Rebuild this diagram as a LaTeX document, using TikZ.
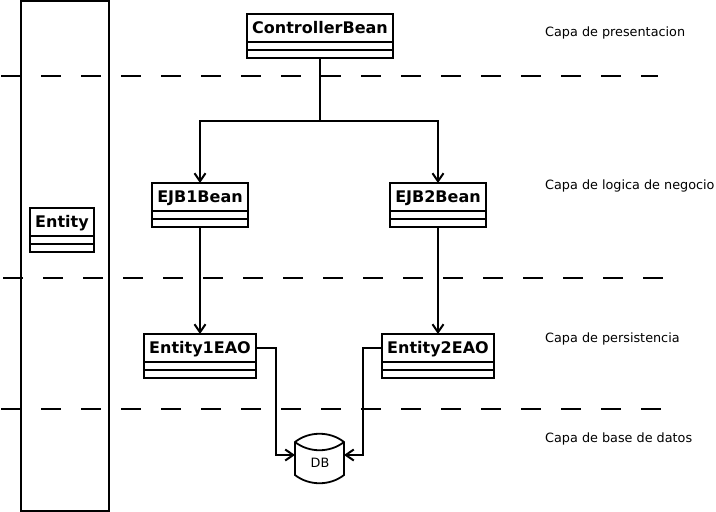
\documentclass[tikz,border=0pt]{standalone}
\usepackage{fontspec}
\setmainfont{DejaVu Sans}
\usetikzlibrary{arrows.meta,calc}
\tikzset{
  x=1pt,y=-1pt,
  line/.style={draw=black,line width=2pt},
  cls/.style={line,fill=white,inner sep=0pt,outer sep=0pt,minimum height=44pt},
  clstitle/.style={font=\bfseries\fontsize{16pt}{18pt}\selectfont,inner sep=0pt,anchor=base},
  layer/.style={font=\fontsize{12.8pt}{15pt}\selectfont,inner sep=0pt,anchor=west},
  sep/.style={line,dash pattern=on 20pt off 20pt},
  conn/.style={line,-{Straight Barb[length=8pt,width=11pt,line width=2pt]}},
}
\newcommand{\umlcls}[5]{% name, x centre, y centre, width, text
  \node[cls,minimum width=#4pt] (#1) at (#2,#3) {};
  \node[clstitle] (#1t) at ($(#1.north)+(0,19)$) {#5};
  \draw[line] ($(#1.north west)+(0,28)$) -- ($(#1.north east)+(0,28)$);
  \draw[line] ($(#1.north west)+(0,36)$) -- ($(#1.north east)+(0,36)$);
}
\begin{document}
\begin{tikzpicture}
\useasboundingbox (0,0) rectangle (716,512);
\node[line,inner sep=0pt,outer sep=0pt,minimum width=88pt,minimum height=510pt] (band) at (65,256) {};
\coordinate (s1a) at (1,76);  \coordinate (s1b) at (658,76);
\coordinate (s2a) at (3,278); \coordinate (s2b) at (664,278);
\coordinate (s3a) at (1,409); \coordinate (s3b) at (662,409);
\draw[sep] (s1a) -- (s1b);
\draw[sep] (s2a) -- (s2b);
\draw[sep] (s3a) -- (s3b);
\umlcls{ctrl}{320}{36}{146}{ControllerBean}
\umlcls{ejba}{200}{205}{96}{EJB1Bean}
\umlcls{ejbb}{438}{205}{96}{EJB2Bean}
\umlcls{ent}{62}{230}{64}{Entity}
\umlcls{eaoa}{200}{356}{112}{Entity1EAO}
\umlcls{eaob}{438}{356}{112}{Entity2EAO}
\node[inner sep=0pt,outer sep=0pt,minimum width=49pt,minimum height=49pt] (db) at (319.5,458.5) {};
\node[inner sep=0pt,font=\fontsize{12.8pt}{15pt}\selectfont] (dbt) at (320,462.5) {DB};
\draw[line,line width=1.8pt] (db.north west)++(0,8)
  .. controls ($(db.north west)+(14,-3)$) and ($(db.north east)+(-14,-3)$) .. ($(db.north east)+(0,8)$)
  -- ($(db.south east)+(0,-8)$)
  .. controls ($(db.south east)+(-14,3)$) and ($(db.south west)+(14,3)$) .. ($(db.south west)+(0,-8)$)
  -- cycle;
\draw[line,line width=1.8pt] ($(db.north west)+(0,8)$)
  .. controls ($(db.north west)+(14,19)$) and ($(db.north east)+(-14,19)$) .. ($(db.north east)+(0,8)$);
\draw[line] (ctrl.south) -- ++(0,63) coordinate (fork);
\draw[conn] (fork) -| (ejba.north);
\draw[conn] (fork) -| (ejbb.north);
\draw[conn] (ejba.south) -- (eaoa.north);
\draw[conn] (ejbb.south) -- (eaob.north);
\coordinate (ina) at ($(db.west)+(0,-3.5)$);
\coordinate (inb) at ($(db.east)+(0,-3.5)$);
\draw[conn] ($(eaoa.north east)+(0,14)$) -- ++(20,0) |- (ina);
\draw[conn] ($(eaob.north west)+(0,14)$) -- ++(-19,0) |- (inb);
\node[layer] (l1) at (545,32.5) {Capa de presentacion};
\node[layer] (l2) at (545,185.5) {Capa de logica de negocio};
\node[layer] (l3) at (545,339) {Capa de persistencia};
\node[layer] (l4) at (545,439) {Capa de base de datos};
\end{tikzpicture}
\end{document}
